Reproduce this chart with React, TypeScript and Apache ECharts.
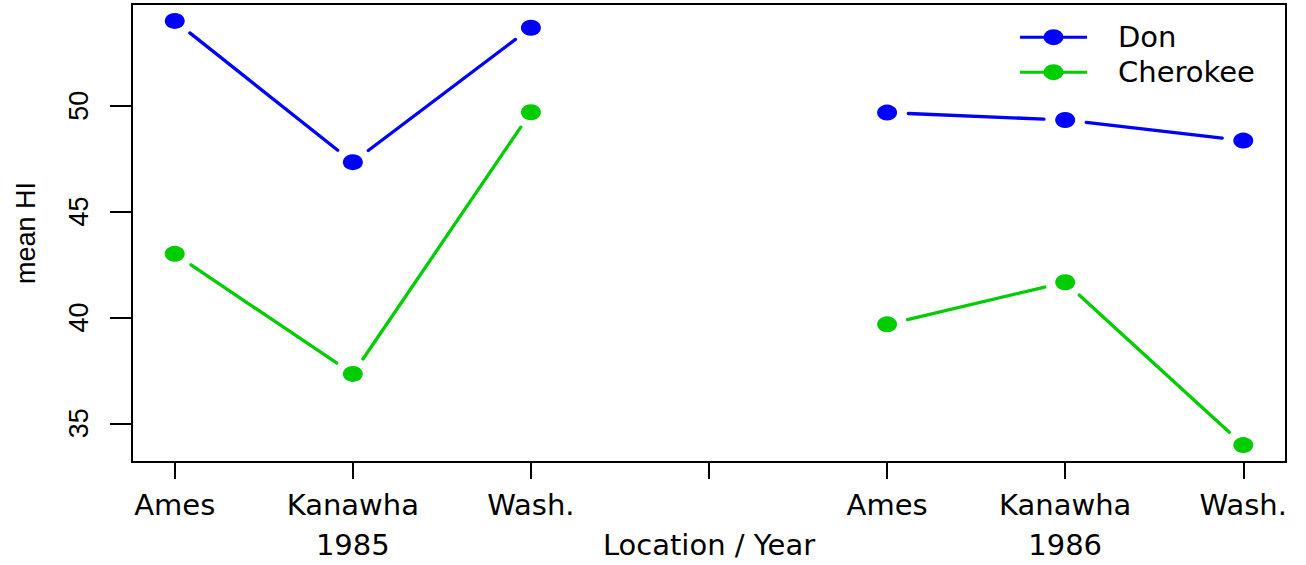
import React, { useEffect, useRef } from 'react';
import * as echarts from 'echarts';

const locations = ['Ames', 'Kanawha', 'Wash.'];
const years = ['1985', '1986'];
const xPositions = [1, 2, 3, 5, 6, 7];
const xTickValues = [1, 2, 3, 4, 5, 6, 7];
const yTickValues = [35, 40, 45, 50];
const don = [54.0, 47.33, 53.68, 49.67, 49.32, 48.35];
const cherokee = [43.0, 37.33, 49.69, 39.67, 41.66, 33.97];
const seriesNames = ['Don', 'Cherokee'];
const seriesValues = [don, cherokee];
const colors = ['#0000FF', '#00CD00'];

const LEGEND_ICON =
  'path://M0,6.5 L67,6.5 L67,9.5 L0,9.5 Z M23.5,8 A10,8 0 1,1 43.5,8 A10,8 0 1,1 23.5,8 Z';

function segmentsOf(vals: number[]) {
  const out: number[][] = [];
  for (let i = 0; i < vals.length - 1; i++) {
    if (Math.floor(i / 3) === Math.floor((i + 1) / 3)) {
      out.push([xPositions[i], vals[i], xPositions[i + 1], vals[i + 1]]);
    }
  }
  return out;
}

function xLabel(v: number) {
  const idx = xPositions.indexOf(v);
  if (idx < 0) return '';
  const loc = locations[idx % 3];
  const yr = years[Math.floor(idx / 3)];
  return idx % 3 === 1 ? loc + '\n' + yr : loc;
}

export default function App() {
  const ref = useRef<HTMLDivElement>(null);
  useEffect(() => {
    document.body.style.margin = '0';
    const chart = echarts.init(ref.current!, null, { renderer: 'svg' });
    const series: any[] = [];
    seriesNames.forEach((name, si) => {
      const color = colors[si];
      series.push({
        name,
        type: 'custom',
        data: segmentsOf(seriesValues[si]),
        encode: { x: [0, 2], y: [1, 3] },
        renderItem: (params: any, api: any) => {
          const p1 = api.coord([api.value(0), api.value(1)]);
          const p2 = api.coord([api.value(2), api.value(3)]);
          const sx = 1.25;
          const r = 17;
          const ux = (p2[0] - p1[0]) / sx;
          const uy = p2[1] - p1[1];
          const len = Math.hypot(ux, uy) || 1;
          const ox = (ux / len) * r * sx;
          const oy = (uy / len) * r;
          return {
            type: 'line',
            shape: { x1: p1[0] + ox, y1: p1[1] + oy, x2: p2[0] - ox, y2: p2[1] - oy },
            style: { stroke: color, lineWidth: 3.3, lineCap: 'round' },
          };
        },
        silent: true,
      });
      series.push({
        name,
        type: 'scatter',
        data: xPositions.map((x, i) => [x, seriesValues[si][i]]),
        symbol: 'circle',
        symbolSize: [20, 16],
        itemStyle: { color, opacity: 1 },
        silent: true,
      });
    });

    chart.setOption({
      animation: false,
      grid: {
        left: 132,
        top: 4,
        width: 1154,
        height: 458,
        containLabel: false,
        outerBoundsMode: 'none',
        show: true,
        borderColor: '#000',
        borderWidth: 2,
        backgroundColor: 'transparent',
      },
      legend: {
        orient: 'vertical',
        left: 1020,
        top: 22.7,
        padding: 0,
        itemGap: 6,
        itemWidth: 67,
        itemHeight: 16,
        selectedMode: false,
        textStyle: {
          fontFamily: 'DejaVu Sans',
          fontSize: 29,
          color: '#000',
          padding: [0, 0, 0, 26],
        },
        data: seriesNames.map((name, i) => ({
          name,
          icon: LEGEND_ICON,
          itemStyle: { color: colors[i] },
        })),
      },
      xAxis: {
        type: 'value',
        min: 0.76,
        max: 7.24,
        name: 'Location / Year',
        nameLocation: 'middle',
        nameGap: 68,
        nameMoveOverlap: false,
        nameTextStyle: { fontFamily: 'DejaVu Sans', fontSize: 29, color: '#000' },
        axisLine: { show: false },
        splitLine: { show: false },
        axisTick: {
          show: true,
          length: 17,
          lineStyle: { color: '#000', width: 2 },
          customValues: xTickValues,
        },
        axisLabel: {
          customValues: xPositions,
          formatter: (v: number) => xLabel(v),
          fontFamily: 'DejaVu Sans',
          fontSize: 29,
          lineHeight: 40,
          color: '#000',
          margin: 23,
          showMinLabel: true,
          showMaxLabel: true,
        },
      },
      yAxis: {
        type: 'value',
        min: 33.17,
        max: 54.8,
        name: 'mean HI',
        nameLocation: 'middle',
        nameRotate: 90,
        nameGap: 93,
        nameMoveOverlap: false,
        nameTextStyle: { fontFamily: 'Liberation Sans', fontSize: 27, color: '#000' },
        axisLine: { show: false },
        splitLine: { show: false },
        axisTick: {
          show: true,
          length: 22,
          lineStyle: { color: '#000', width: 2 },
          customValues: yTickValues,
        },
        axisLabel: {
          customValues: yTickValues,
          rotate: 90,
          fontFamily: 'Liberation Sans',
          fontSize: 27,
          color: '#000',
          margin: 40,
        },
      },
      series,
    });
    return () => chart.dispose();
  }, []);
  return <div ref={ref} style={{ width: 1306, height: 565 }} />;
}
